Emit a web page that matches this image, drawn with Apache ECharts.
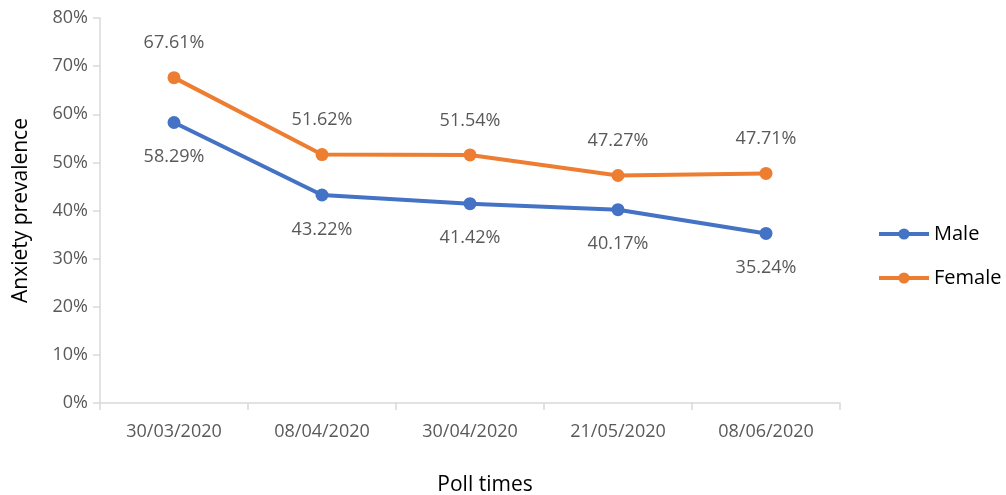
<!DOCTYPE html>
<html>
<head>
<meta charset="utf-8">
<script src="https://cdn.jsdelivr.net/npm/echarts@6/dist/echarts.min.js"></script>
<style>
  html, body { margin: 0; padding: 0; background: #fff; }
  #chart { width: 1006px; height: 495px; }
</style>
</head>
<body>
<div id="chart"></div>
<script>
const pollTimes = ['30/03/2020', '08/04/2020', '30/04/2020', '21/05/2020', '08/06/2020'];
const male = [58.29, 43.22, 41.42, 40.17, 35.24];
const female = [67.61, 51.62, 51.54, 47.27, 47.71];

const font = 'Open Sans';
const gray = '#595959';

const chart = echarts.init(document.getElementById('chart'));

const labelStyle = {
    show: true,
    fontFamily: font,
    fontSize: 18,
    color: gray,
    distance: 19,
    formatter: p => p.value.toFixed(2) + '%'
};

chart.setOption({
    animation: false,
    grid: { left: 100, right: 166, top: 18, bottom: 92, outerBoundsMode: 'none', containLabel: false },
    legend: {
        orient: 'vertical',
        left: 872,
        top: 219,
        itemWidth: 50,
        itemHeight: 14,
        itemGap: 24,
        lineStyle: { width: 4 },
        textStyle: { fontFamily: font, fontSize: 20, color: '#000' },
        data: ['Male', 'Female']
    },
    xAxis: {
        type: 'category',
        data: pollTimes,
        name: 'Poll times',
        nameLocation: 'middle',
        nameGap: 72,
        nameTextStyle: { fontFamily: font, fontSize: 21, color: '#000', padding: [0, 0, 0, 30] },
        axisLine: { lineStyle: { color: '#d9d9d9', width: 1.5 } },
        axisTick: { show: true, length: 7, lineStyle: { color: '#d9d9d9', width: 1.5 } },
        axisLabel: { fontFamily: font, fontSize: 18, color: gray, margin: 20 }
    },
    yAxis: {
        type: 'value',
        min: 0,
        max: 80,
        interval: 10,
        name: 'Anxiety prevalence',
        nameLocation: 'middle',
        nameGap: 68,
        nameTextStyle: { fontFamily: font, fontSize: 21, color: '#000' },
        axisLine: { show: true, lineStyle: { color: '#d9d9d9', width: 1.5 } },
        axisTick: { show: true, length: 7, lineStyle: { color: '#d9d9d9', width: 1.5 } },
        splitLine: { show: false },
        axisLabel: { fontFamily: font, fontSize: 18, color: gray, margin: 12, formatter: '{value}%' }
    },
    series: [
        {
            name: 'Male',
            type: 'line',
            data: male,
            symbol: 'circle',
            symbolSize: 13,
            color: '#4472C4',
            lineStyle: { width: 4 },
            label: Object.assign({ position: 'bottom' }, labelStyle)
        },
        {
            name: 'Female',
            type: 'line',
            data: female,
            symbol: 'circle',
            symbolSize: 13,
            color: '#ED7D31',
            lineStyle: { width: 4 },
            label: Object.assign({ position: 'top' }, labelStyle)
        }
    ]
});
</script>
</body>
</html>
